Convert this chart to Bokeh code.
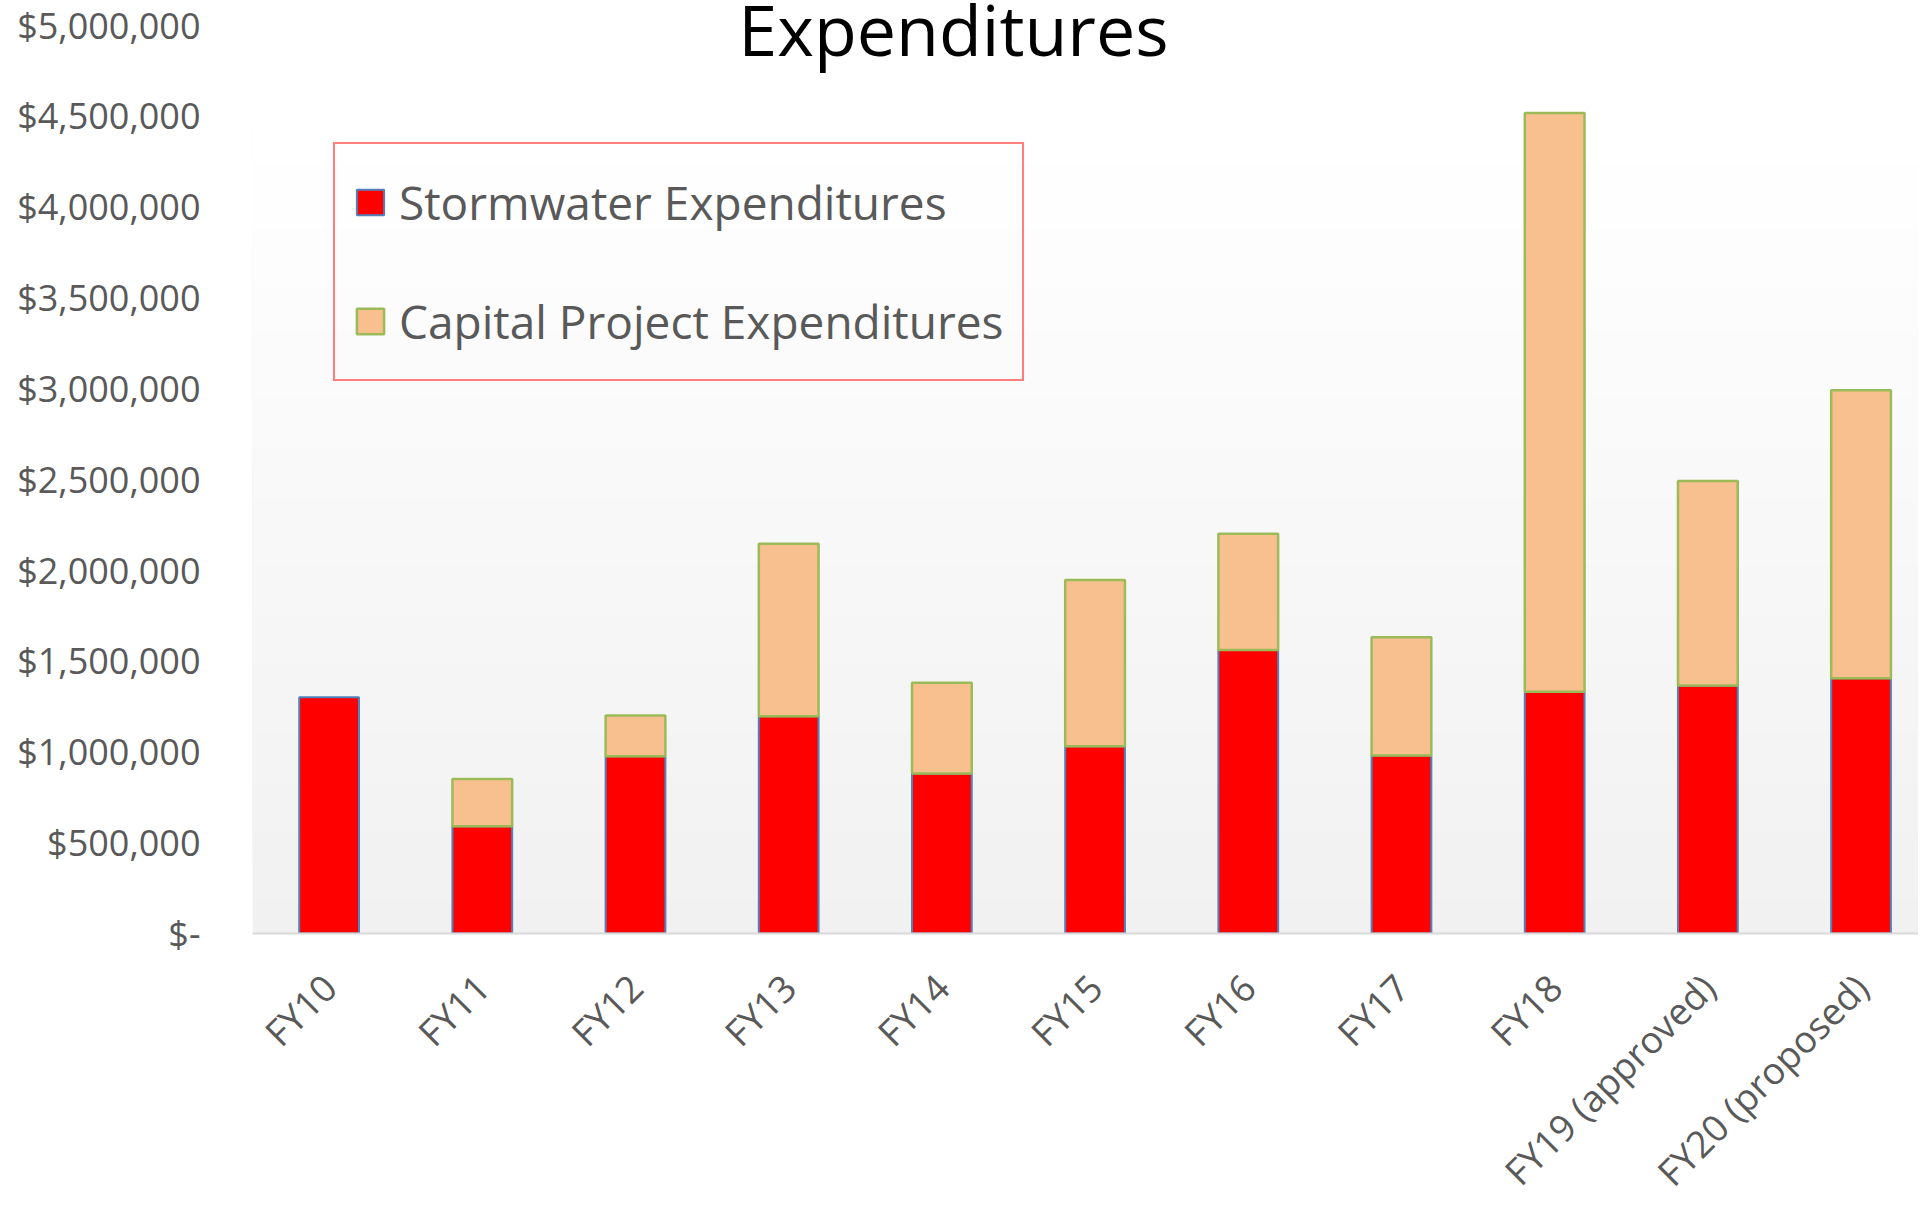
import math
from bokeh.plotting import figure
from bokeh.models import (ColumnDataSource, FixedTicker, Range1d, Label, BoxAnnotation,
                          Legend, CDSView, BooleanFilter)
from bokeh.embed import file_html
from bokeh.resources import INLINE

# ---- data ----
categories = ["FY10", "FY11", "FY12", "FY13", "FY14", "FY15", "FY16", "FY17", "FY18",
              "FY19 (approved)", "FY20 (proposed)"]
stormwater = [1300000, 590000, 975000, 1195000, 880000, 1030000, 1560000, 980000,
              1330000, 1365000, 1405000]
capital = [0, 260000, 225000, 950000, 500000, 915000, 640000, 650000,
           3185000, 1125000, 1585000]
y_ticks = [0, 500000, 1000000, 1500000, 2000000, 2500000, 3000000, 3500000,
           4000000, 4500000, 5000000]
y_tick_labels = ["$-", "$500,000", "$1,000,000", "$1,500,000", "$2,000,000",
                 "$2,500,000", "$3,000,000", "$3,500,000", "$4,000,000",
                 "$4,500,000", "$5,000,000"]

FONT = "Open Sans"
GRAY = "#595959"

W, H = 1918, 1217
TOP, BOTTOM, LEFT = 0, 284, 252
FRAME_H = H - TOP - BOTTOM          # 933 px; the $5,000,000 tick sits 24.5 px below the top
Y_MAX = 5000000 * FRAME_H / (FRAME_H - 24.5)

p = figure(width=W, height=H, output_backend="svg", toolbar_location=None, title=None,
           x_range=Range1d(-0.5, 10.375), y_range=Range1d(0, Y_MAX),
           min_border_left=LEFT, min_border_right=0, min_border_top=TOP,
           min_border_bottom=BOTTOM)
p.background_fill_color = "white"
p.border_fill_color = "white"
p.outline_line_color = None
p.xgrid.visible = False
p.ygrid.visible = False

# plot-area gradient (white at top -> light gray at bottom)
grad_top = 4425000
n = 48
for i in range(n):
    b = grad_top * i / n
    frac = i / (n - 1)
    c = round(241 + (255 - 241) * frac)
    p.add_layout(BoxAnnotation(bottom=b, top=grad_top, fill_color=f"#{c:02x}{c:02x}{c:02x}",
                               fill_alpha=1, line_color=None, level="underlay"))

xs = list(range(len(categories)))
totals = [s + c for s, c in zip(stormwater, capital)]
src = ColumnDataSource(dict(x=xs, storm=stormwater, total=totals, cat=categories))

r1 = p.vbar(x="x", width=0.39, bottom=0, top="storm", source=src,
            fill_color="#ff0000", line_color="#4f81bd", line_width=2)
view = CDSView(filter=BooleanFilter([c > 0 for c in capital]))
r2 = p.vbar(x="x", width=0.39, bottom="storm", top="total", source=src, view=view,
            fill_color="#f8c08f", line_color="#9bbb59", line_width=2.5)

# axes
p.xaxis.ticker = FixedTicker(ticks=xs)
p.xaxis.major_label_overrides = {i: c for i, c in enumerate(categories)}
p.xaxis.major_label_orientation = math.pi / 4
p.xaxis.axis_line_color = "#d9d9d9"
p.xaxis.axis_line_width = 2
p.xaxis.major_tick_line_color = None
p.xaxis.minor_tick_line_color = None
p.xaxis.major_label_standoff = 41
p.xaxis.major_label_text_font_size = "37px"

p.yaxis.ticker = FixedTicker(ticks=y_ticks)
p.yaxis.major_label_overrides = dict(zip(y_ticks, y_tick_labels))
p.yaxis.axis_line_color = None
p.yaxis.major_tick_line_color = None
p.yaxis.minor_tick_line_color = None
p.yaxis.major_tick_out = 0
p.yaxis.major_label_standoff = 52
p.yaxis.major_label_text_font_size = "36px"

for ax in (p.xaxis[0], p.yaxis[0]):
    ax.major_label_text_font = FONT
    ax.major_label_text_color = GRAY

# legend
legend = Legend(items=[("Stormwater Expenditures", [r1]),
                       ("Capital Project Expenditures", [r2])],
                location=(81, 552), margin=0, padding=18, spacing=39,
                glyph_width=34, glyph_height=32, label_height=80, label_standoff=12,
                label_text_font=FONT, label_text_font_size="46px", label_text_color=GRAY,
                border_line_color="#ff0000", border_line_width=2,
                background_fill_alpha=0)
p.add_layout(legend)

# title (top edge near the page border, as in the reference)
p.add_layout(Label(x=701, y=905, x_units="screen", y_units="screen",
                   text="Expenditures", text_font=FONT, text_font_size="70px",
                   text_align="center", text_baseline="alphabetic", text_color="black"))

open("out.html", "w").write(file_html(p, INLINE))
